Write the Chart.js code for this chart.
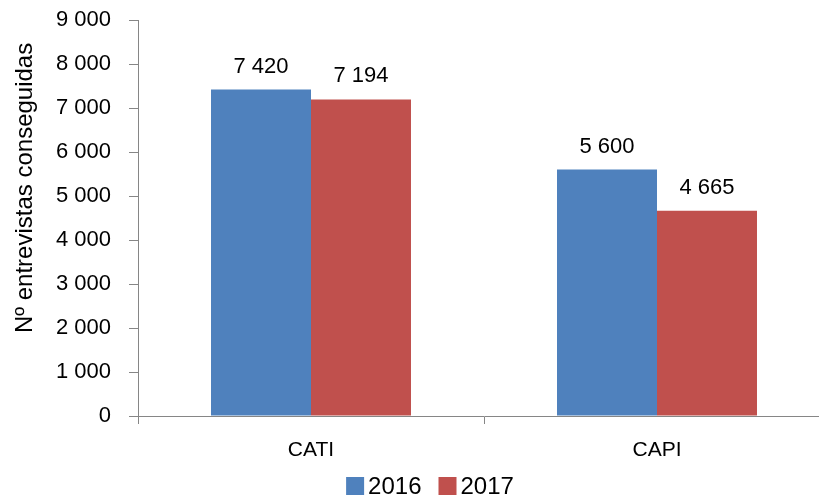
<!DOCTYPE html>
<html>
<head>
<meta charset="utf-8">
<script src="https://cdn.jsdelivr.net/npm/chart.js@4.4.0/dist/chart.umd.min.js"></script>
<style>
  html, body { margin: 0; padding: 0; overflow: hidden; background: #fff; width: 819px; height: 497px; }
  #wrap { position: absolute; left: 0; top: 0; width: 860px; height: 497px; }
</style>
</head>
<body>
<div id="wrap"><canvas id="c" width="860" height="497"></canvas></div>
<script>
const categories = ['CATI', 'CAPI'];
const seriesNames = ['2016', '2017'];
const values2016 = [7420, 5600];
const values2017 = [7194, 4665];
const yMin = 0, yMax = 9000, yStep = 1000;
const yTitle = 'Nº entrevistas conseguidas';

const colors = ['#4F81BD', '#C0504D'];
const FONT = '"Liberation Sans", Arial, sans-serif';
const AXIS = '#868686';

function fmt(n) { return String(n).replace(/\B(?=(\d{3})+(?!\d))/g, ' '); }

const extras = {
  id: 'extras',
  afterDatasetsDraw(chart) {
    const ctx = chart.ctx;
    ctx.save();
    // data labels
    ctx.font = '22px ' + FONT;
    ctx.fillStyle = '#000';
    ctx.textAlign = 'center';
    ctx.textBaseline = 'alphabetic';
    chart.data.datasets.forEach((ds, i) => {
      chart.getDatasetMeta(i).data.forEach((bar, j) => {
        ctx.fillText(fmt(ds.data[j]), bar.x, bar.y - 17);
      });
    });
    // y title
    ctx.save();
    ctx.font = '24px ' + FONT;
    ctx.textAlign = 'center';
    ctx.textBaseline = 'middle';
    ctx.translate(25, chart.chartArea.top + chart.chartArea.height * 0.424);
    ctx.rotate(-Math.PI / 2);
    ctx.fillText(yTitle, 0, 0);
    ctx.restore();
    // legend
    ctx.font = '24px ' + FONT;
    ctx.textAlign = 'left';
    ctx.textBaseline = 'middle';
    const box = 18, gap = 4, between = 17;
    const widths = seriesNames.map(s => ctx.measureText(s).width);
    const total = widths.reduce((a, w) => a + box + gap + w, 0) + between * (seriesNames.length - 1);
    let x = chart.width / 2 - total / 2;
    const yc = 486;
    seriesNames.forEach((s, i) => {
      ctx.fillStyle = colors[i];
      ctx.fillRect(x, yc - box / 2, box, box);
      ctx.fillStyle = '#000';
      ctx.fillText(s, x + box + gap, yc + 1);
      x += box + gap + widths[i] + between;
    });
    ctx.restore();
  }
};

new Chart(document.getElementById('c'), {
  type: 'bar',
  data: {
    labels: categories,
    datasets: [
      { label: seriesNames[0], data: values2016, backgroundColor: colors[0], borderWidth: 0 },
      { label: seriesNames[1], data: values2017, backgroundColor: colors[1], borderWidth: 0 }
    ]
  },
  options: {
    responsive: false,
    animation: false,
    devicePixelRatio: 1,
    layout: { padding: { left: 0, right: 30, top: 20, bottom: 0 } },
    plugins: { legend: { display: false }, tooltip: { enabled: false } },
    datasets: { bar: { categoryPercentage: 0.578, barPercentage: 1.0 } },
    scales: {
      x: {
        grid: { display: true, drawOnChartArea: false, drawTicks: true, tickLength: 8, color: AXIS, offset: true },
        border: { display: true, color: AXIS, width: 1 },
        ticks: { color: '#000', font: { family: FONT, size: 21 }, padding: 14 },
        afterFit(scale) { scale.height = 81; scale.paddingLeft = 0; scale.paddingRight = 0; }
      },
      y: {
        min: yMin, max: yMax,
        grid: { display: true, drawOnChartArea: false, drawTicks: true, tickLength: 9, color: AXIS },
        border: { display: true, color: AXIS, width: 1 },
        ticks: { stepSize: yStep, color: '#000', font: { family: FONT, size: 22 }, padding: 18, callback: v => fmt(v) },
        afterFit(scale) { scale.width = 138; scale.paddingTop = 0; scale.paddingBottom = 0; }
      }
    }
  },
  plugins: [extras]
});
</script>
</body>
</html>
